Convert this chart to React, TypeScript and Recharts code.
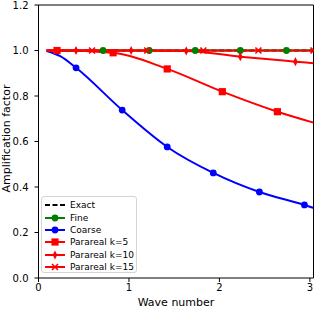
import React from 'react';
import {
  LineChart,
  Line,
  XAxis,
  YAxis,
  Legend,
  ReferenceLine,
} from 'recharts';

// Values
const exactX = [0.09, 3.04];
const exactY = [1.0, 1.0];

const fineX = [0.09, 0.205, 0.714, 1.224, 1.733, 2.231, 2.741, 3.04];
const fineY = [1.0, 1.0, 1.0, 1.0, 1.0, 1.0, 1.0, 1.0];
const fineMarks = [1, 2, 3, 4, 5, 6];

const coarseX = [0.09, 0.24, 0.415, 0.925, 1.423, 1.932, 2.442, 2.94, 3.04];
const coarseY = [0.998, 0.975, 0.924, 0.738, 0.576, 0.462, 0.378, 0.321, 0.308];
const coarseMarks = [2, 3, 4, 5, 6, 7];

const k5X = [0.09, 0.205, 0.825, 1.423, 2.032, 2.641, 3.04];
const k5Y = [1.0, 1.0, 0.99, 0.919, 0.819, 0.731, 0.683];
const k5Marks = [1, 2, 3, 4, 5];

const k10X = [0.09, 0.415, 1.024, 1.633, 2.231, 2.84, 3.04];
const k10Y = [1.0, 1.0, 1.0, 0.998, 0.973, 0.951, 0.944];
const k10Marks = [1, 2, 3, 4, 5];

const k15X = [0.09, 0.592, 1.202, 1.822, 2.431, 3.04];
const k15Y = [1.0, 1.0, 1.0, 1.0, 1.0, 1.0];
const k15Marks = [1, 2, 3, 4, 5];

const xTicks = [0, 1, 2, 3];
const yTicks = [0, 0.2, 0.4, 0.6, 0.8, 1.0, 1.2];

const X_MAX = 3.04;
const FONT = 'DejaVu Sans, sans-serif';

type MarkerKind = 'none' | 'circle' | 'square' | 'thin_diamond' | 'x';

const zip = (xs: number[], ys: number[]) => xs.map((x, i) => ({ x, y: ys[i] }));

const Marker = ({ kind, cx, cy, color }: { kind: MarkerKind; cx: number; cy: number; color: string }) => {
  if (kind === 'circle') return <circle cx={cx} cy={cy} r={3.4} fill={color} />;
  if (kind === 'square') return <rect x={cx - 3.6} y={cy - 3.6} width={7.2} height={7.2} fill={color} />;
  if (kind === 'thin_diamond')
    return (
      <polygon
        points={`${cx},${cy - 4.6} ${cx + 2.3},${cy} ${cx},${cy + 4.6} ${cx - 2.3},${cy}`}
        fill={color}
      />
    );
  if (kind === 'x')
    return (
      <path
        d={`M${cx - 3},${cy - 3}L${cx + 3},${cy + 3}M${cx - 3},${cy + 3}L${cx + 3},${cy - 3}`}
        stroke={color}
        strokeWidth={1.6}
        fill="none"
      />
    );
  return null;
};

const markerDot = (kind: MarkerKind, color: string, marks: number[]) => (props: any) => {
  const { cx, cy, index } = props;
  if (!marks.includes(index) || cx == null || cy == null) return <g key={`d-${index}`} />;
  return (
    <g key={`d-${index}`}>
      <Marker kind={kind} cx={cx} cy={cy} color={color} />
    </g>
  );
};

const legendItems: { label: string; color: string; marker: MarkerKind; dashed?: boolean }[] = [
  { label: 'Exact', color: '#000000', marker: 'none', dashed: true },
  { label: 'Fine', color: '#008000', marker: 'circle' },
  { label: 'Coarse', color: '#0000ff', marker: 'circle' },
  { label: 'Parareal k=5', color: '#ff0000', marker: 'square' },
  { label: 'Parareal k=10', color: '#ff0000', marker: 'thin_diamond' },
  { label: 'Parareal k=15', color: '#ff0000', marker: 'x' },
];

const renderLegend = () => (
  <div
    style={{
      width: 96,
      height: 77,
      boxSizing: 'border-box',
      border: '1px solid #d4d4d4',
      borderRadius: 3,
      background: 'rgba(255,255,255,0.8)',
      paddingTop: 2,
      fontFamily: FONT,
      fontSize: 9,
      color: '#000',
    }}
  >
    {legendItems.map((item) => (
      <div key={item.label} style={{ height: 12.4, display: 'flex', alignItems: 'center' }}>
        <svg width={26} height={12} style={{ marginLeft: 2, flex: 'none' }}>
          <line
            x1={1}
            y1={6}
            x2={21}
            y2={6}
            stroke={item.color}
            strokeWidth={2}
            strokeDasharray={item.dashed ? '5 2.5' : undefined}
          />
          <Marker kind={item.marker} cx={11} cy={6} color={item.color} />
        </svg>
        <span style={{ whiteSpace: 'nowrap', lineHeight: '12px' }}>{item.label}</span>
      </div>
    ))}
  </div>
);

const tickStyle = { fontSize: 10, fontFamily: FONT, fill: '#000' };

const App = () => {
  return (
    <div style={{ position: 'absolute', left: 0, top: 0, background: '#fff' }}>
      <LineChart width={316} height={309} margin={{ top: 5, right: 2.5, left: 0, bottom: 0 }}>
        <XAxis
          type="number"
          dataKey="x"
          domain={[0, X_MAX]}
          ticks={xTicks}
          allowDataOverflow
          height={31}
          tickSize={4}
          tickMargin={2}
          stroke="#000"
          tick={tickStyle}
          tickLine={{ stroke: '#000' }}
          label={{
            value: 'Wave number',
            position: 'insideBottom',
            offset: 3,
            style: { fontSize: 11, fontFamily: FONT, fill: '#000' },
          }}
        />
        <YAxis
          type="number"
          domain={[0, 1.2]}
          ticks={yTicks}
          width={38.5}
          tickSize={4}
          tickMargin={6}
          stroke="#000"
          tick={tickStyle}
          tickLine={{ stroke: '#000' }}
          tickFormatter={(v: number) => v.toFixed(1)}
          label={{
            content: ({ viewBox }: any) => {
              const cy = viewBox.y + viewBox.height / 2 - 3;
              return (
                <text
                  x={6}
                  y={cy}
                  transform={`rotate(-90 6 ${cy})`}
                  textAnchor="middle"
                  dominantBaseline="central"
                  style={{ fontSize: 11, fontFamily: FONT, fill: '#000' }}
                >
                  Amplification factor
                </text>
              );
            },
          }}
        />
        <ReferenceLine y={1.2} stroke="#000" strokeWidth={1} />
        <ReferenceLine x={X_MAX} stroke="#000" strokeWidth={1} />

        <Line
          data={zip(exactX, exactY)}
          dataKey="y"
          name="Exact"
          type="linear"
          stroke="#000"
          strokeWidth={2}
          strokeDasharray="5 2.5"
          dot={false}
          isAnimationActive={false}
        />
        <Line
          data={zip(fineX, fineY)}
          dataKey="y"
          name="Fine"
          type="monotone"
          stroke="#008000"
          strokeWidth={2}
          dot={markerDot('circle', '#008000', fineMarks)}
          activeDot={false}
          isAnimationActive={false}
        />
        <Line
          data={zip(coarseX, coarseY)}
          dataKey="y"
          name="Coarse"
          type="monotone"
          stroke="#0000ff"
          strokeWidth={2}
          dot={markerDot('circle', '#0000ff', coarseMarks)}
          activeDot={false}
          isAnimationActive={false}
        />
        <Line
          data={zip(k5X, k5Y)}
          dataKey="y"
          name="Parareal k=5"
          type="monotone"
          stroke="#ff0000"
          strokeWidth={2}
          dot={markerDot('square', '#ff0000', k5Marks)}
          activeDot={false}
          isAnimationActive={false}
        />
        <Line
          data={zip(k10X, k10Y)}
          dataKey="y"
          name="Parareal k=10"
          type="monotone"
          stroke="#ff0000"
          strokeWidth={2}
          dot={markerDot('thin_diamond', '#ff0000', k10Marks)}
          activeDot={false}
          isAnimationActive={false}
        />
        <Line
          data={zip(k15X, k15Y)}
          dataKey="y"
          name="Parareal k=15"
          type="monotone"
          stroke="#ff0000"
          strokeWidth={2}
          dot={markerDot('x', '#ff0000', k15Marks)}
          activeDot={false}
          isAnimationActive={false}
        />
        <Legend
          layout="vertical"
          align="center"
          verticalAlign="middle"
          content={renderLegend}
          wrapperStyle={{ left: 41, top: 196, width: 96, height: 77 }}
        />
      </LineChart>
    </div>
  );
};

export default App;
